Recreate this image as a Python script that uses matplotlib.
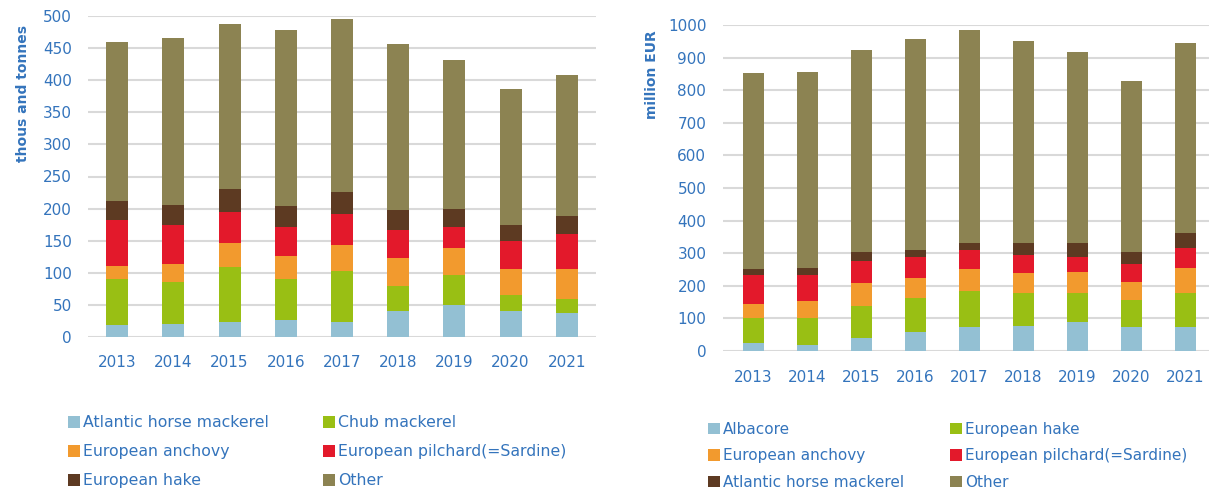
import matplotlib
matplotlib.use("Agg")
import matplotlib.pyplot as plt
import numpy as np

plt.rcParams['font.family'] = ['DejaVu Sans']

years = ['2013', '2014', '2015', '2016', '2017', '2018', '2019', '2020', '2021']

# landings, thousand tonnes
vol_species = ['Atlantic horse mackerel', 'Chub mackerel', 'European anchovy',
               'European pilchard(=Sardine)', 'European hake', 'Other']
vol_horse = [18, 21, 23, 26, 23, 41, 50, 41, 38]
vol_chub = [73, 64, 86, 65, 80, 39, 47, 24, 21]
vol_anchovy = [20, 28, 37, 35, 40, 43, 41, 41, 47]
vol_pilchard = [72, 61, 49, 46, 49, 43, 34, 43, 55]
vol_hake = [29, 32, 35, 32, 34, 32, 28, 25, 28]
vol_other = [248, 260, 257, 274, 269, 259, 231, 213, 219]

# value, million EUR
val_species = ['Albacore', 'European hake', 'European anchovy',
               'European pilchard(=Sardine)', 'Atlantic horse mackerel', 'Other']
val_albacore = [24, 18, 39, 57, 73, 78, 88, 73, 73]
val_hake = [76, 82, 100, 105, 111, 99, 89, 83, 104]
val_anchovy = [44, 54, 71, 61, 67, 61, 66, 55, 79]
val_pilchard = [89, 79, 66, 64, 59, 56, 46, 55, 61]
val_horse = [18, 23, 29, 23, 22, 38, 43, 39, 44]
val_other = [601, 601, 618, 646, 653, 619, 586, 524, 585]

colors = ['#93C0D3', '#99BF14', '#F29A2E', '#E3192B', '#5D3A22', '#8C8352']
blue = '#3474BC'

fig = plt.figure(figsize=(12.09, 4.91), dpi=100)
ax1 = fig.add_axes([88/1209, 1-337/491, (596-88)/1209, (337-16)/491])
ax2 = fig.add_axes([723/1209, 1-351/491, (1209-723)/1209, (351-25)/491])


def stacked(ax, series, names, ymax, step, xlim, pad_y, pad_x):
    x = np.arange(len(years))
    bottom = np.zeros(len(years))
    handles = []
    for vals, name, c in zip(series, names, colors):
        b = ax.bar(x, vals, 0.39, bottom=bottom, color=c, label=name, zorder=3)
        handles.append(b)
        bottom += np.array(vals)
    ax.set_ylim(0, ymax)
    ax.set_xlim(*xlim)
    ax.set_yticks(np.arange(0, ymax + 1, step))
    ax.set_xticks(x)
    ax.set_xticklabels(years)
    ax.grid(axis='y', color='#D9D9D9', linewidth=1.5, zorder=0)
    ax.set_axisbelow(True)
    for s in ax.spines.values():
        s.set_visible(False)
    ax.tick_params(axis='y', length=0, pad=pad_y, labelsize=11, labelcolor=blue)
    ax.tick_params(axis='x', length=0, pad=pad_x, labelsize=11, labelcolor=blue)
    return handles


h1 = stacked(ax1, [vol_horse, vol_chub, vol_anchovy, vol_pilchard, vol_hake, vol_other],
             vol_species, 500, 50, (-0.52, 8.52), 11.5, 13)
h2 = stacked(ax2, [val_albacore, val_hake, val_anchovy, val_pilchard, val_horse, val_other],
             val_species, 1000, 100, (-0.565, 8.435), 12, 13.5)

fig.text(23/1209, 1-25/491, 'thous and tonnes', rotation=90, va='top', ha='center',
         color=blue, fontsize=10, fontweight='bold')
fig.text(652/1209, 1-30/491, 'million EUR', rotation=90, va='top', ha='center',
         color=blue, fontsize=10, fontweight='bold')

order = [0, 2, 4, 1, 3, 5]
leg1 = fig.legend([h1[i] for i in order], [vol_species[i] for i in order], ncol=2,
                  loc='upper left', bbox_to_anchor=(54/1209, 1-401/491), frameon=False,
                  fontsize=11.3, handlelength=0.77, handleheight=0.77, handletextpad=0.2,
                  columnspacing=3.4, labelspacing=0.9, labelcolor=blue)
leg2 = fig.legend([h2[i] for i in order], [val_species[i] for i in order], ncol=2,
                  loc='upper left', bbox_to_anchor=(694/1209, 1-408/491), frameon=False,
                  fontsize=11.0, handlelength=0.79, handleheight=0.79, handletextpad=0.2,
                  columnspacing=3.0, labelspacing=0.75, labelcolor=blue)

fig.savefig('out.png', dpi=100)
